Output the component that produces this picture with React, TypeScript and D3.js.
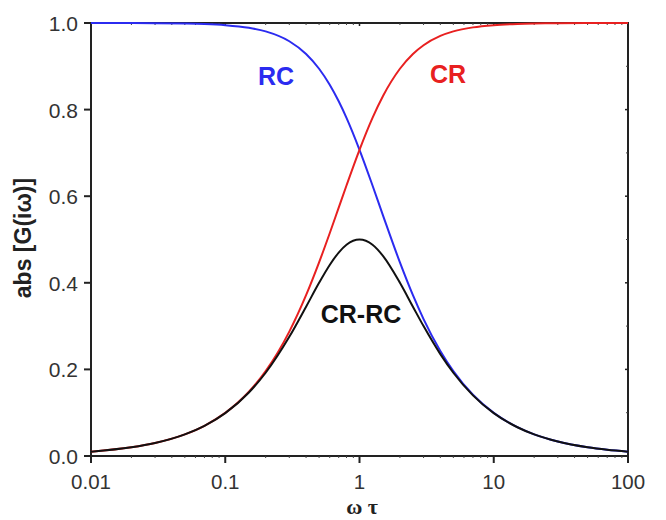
import React from "react";
import * as d3 from "d3";

// Normalised frequency ωτ and transfer magnitude of the three filters
const omegaTau = [0.01, 0.02, 0.03, 0.05, 0.07, 0.1, 0.15, 0.2, 0.3, 0.4, 0.5, 0.6, 0.7, 0.8, 1, 1.25, 1.5, 2, 2.5, 3, 4, 5, 7, 10, 15, 20, 30, 50, 70, 100];
const rcValues = [1.0, 0.9998, 0.9996, 0.9988, 0.9976, 0.995, 0.9889, 0.9806, 0.9578, 0.9285, 0.8944, 0.8575, 0.8192, 0.7809, 0.7071, 0.6247, 0.5547, 0.4472, 0.3714, 0.3162, 0.2425, 0.1961, 0.1414, 0.0995, 0.0665, 0.0499, 0.0333, 0.02, 0.0143, 0.01];
const crValues = [0.01, 0.02, 0.03, 0.0499, 0.0698, 0.0995, 0.1483, 0.1961, 0.2873, 0.3714, 0.4472, 0.5145, 0.5735, 0.6247, 0.7071, 0.7809, 0.8321, 0.8944, 0.9285, 0.9487, 0.9701, 0.9806, 0.9899, 0.995, 0.9978, 0.9988, 0.9994, 0.9998, 0.9999, 1.0];
const crrcValues = [0.01, 0.02, 0.03, 0.0499, 0.0697, 0.099, 0.1467, 0.1923, 0.2752, 0.3448, 0.4, 0.4412, 0.4698, 0.4878, 0.5, 0.4878, 0.4615, 0.4, 0.3448, 0.3, 0.2353, 0.1923, 0.14, 0.099, 0.0664, 0.0499, 0.0333, 0.02, 0.0143, 0.01];

const xTicks = [0.01, 0.1, 1, 10, 100];
const xTickLabels = ["0.01", "0.1", "1", "10", "100"];
const yTicks = [0, 0.2, 0.4, 0.6, 0.8, 1.0];

const W = 666;
const H = 520;
const left = 91;
const right = 628;
const top = 23;
const bottom = 456;

const FONT = "Liberation Sans, Arial, sans-serif";

export default function App() {
  const x = d3.scaleLog().domain([0.01, 100]).range([left, right]);
  const y = d3.scaleLinear().domain([0, 1]).range([bottom, top]);

  const line = (vals: number[]) =>
    d3
      .line<number>()
      .x((_, i) => x(omegaTau[i]))
      .y((v) => y(v))
      .curve(d3.curveMonotoneX)(vals) || "";

  // minor ticks: 2..9 within each decade
  const minorX: number[] = [];
  for (let e = -2; e < 2; e++) {
    for (let m = 2; m <= 9; m++) minorX.push(m * Math.pow(10, e));
  }
  const minorY = d3.range(0.1, 1, 0.2);

  return (
    <svg width={W} height={H} style={{ position: "absolute", left: 0, top: 0, background: "#fff" }}>
      <rect x={0} y={0} width={W} height={H} fill="#fff" />
      {/* frame */}
      <rect x={left} y={top} width={right - left} height={bottom - top} fill="none" stroke="#222" strokeWidth={2} />

      {/* bottom axis ticks */}
      {xTicks.map((t, i) => (
        <g key={"xt" + i}>
          <line x1={x(t)} x2={x(t)} y1={bottom} y2={bottom + 7} stroke="#222" strokeWidth={2} />
          <line x1={x(t)} x2={x(t)} y1={top} y2={top + 3} stroke="#222" strokeWidth={1.5} />
          <text x={x(t)} y={bottom + 33} textAnchor="middle" fontFamily={FONT} fontSize={20.5} fill="#333">
            {xTickLabels[i]}
          </text>
        </g>
      ))}
      {minorX.map((t, i) => (
        <g key={"xm" + i}>
          <line x1={x(t)} x2={x(t)} y1={bottom} y2={bottom + 2} stroke="#444" strokeWidth={1} />
          <line x1={x(t)} x2={x(t)} y1={top} y2={top + 2} stroke="#444" strokeWidth={1} />
        </g>
      ))}

      {/* left axis ticks */}
      {yTicks.map((t, i) => (
        <g key={"yt" + i}>
          <line x1={left - 7} x2={left} y1={y(t)} y2={y(t)} stroke="#222" strokeWidth={2} />
          <line x1={right - 3} x2={right} y1={y(t)} y2={y(t)} stroke="#222" strokeWidth={1.5} />
          <text x={78} y={y(t) + 8} textAnchor="end" fontFamily={FONT} fontSize={21} fill="#333">
            {t.toFixed(1)}
          </text>
        </g>
      ))}
      {minorY.map((t, i) => (
        <line key={"ym" + i} x1={right - 2} x2={right} y1={y(t)} y2={y(t)} stroke="#444" strokeWidth={1} />
      ))}

      {/* curves */}
      <path d={line(rcValues)} fill="none" stroke="#2b2bf0" strokeWidth={2} />
      <path d={line(crValues)} fill="none" stroke="#e82020" strokeWidth={2} />
      <path d={line(crrcValues)} fill="none" stroke="#111" strokeWidth={2} />

      {/* curve labels */}
      <text x={276} y={85} textAnchor="middle" fontFamily={FONT} fontWeight="bold" fontSize={25} fill="#2b2bf0">RC</text>
      <text x={448} y={83} textAnchor="middle" fontFamily={FONT} fontWeight="bold" fontSize={25} fill="#e82020">CR</text>
      <text x={361} y={323} textAnchor="middle" fontFamily={FONT} fontWeight="bold" fontSize={25} fill="#111">CR-RC</text>

      {/* axis titles */}
      <text x={362} y={514} textAnchor="middle" fontFamily="Liberation Serif, Times New Roman, serif" fontWeight="bold" fontSize={22} fill="#222">
        ω τ
      </text>
      <text
        transform={`translate(31, 238) rotate(-90)`}
        textAnchor="middle"
        fontFamily={FONT}
        fontWeight="bold"
        fontSize={23}
        fill="#222"
      >
        abs [G(iω)]
      </text>
    </svg>
  );
}
